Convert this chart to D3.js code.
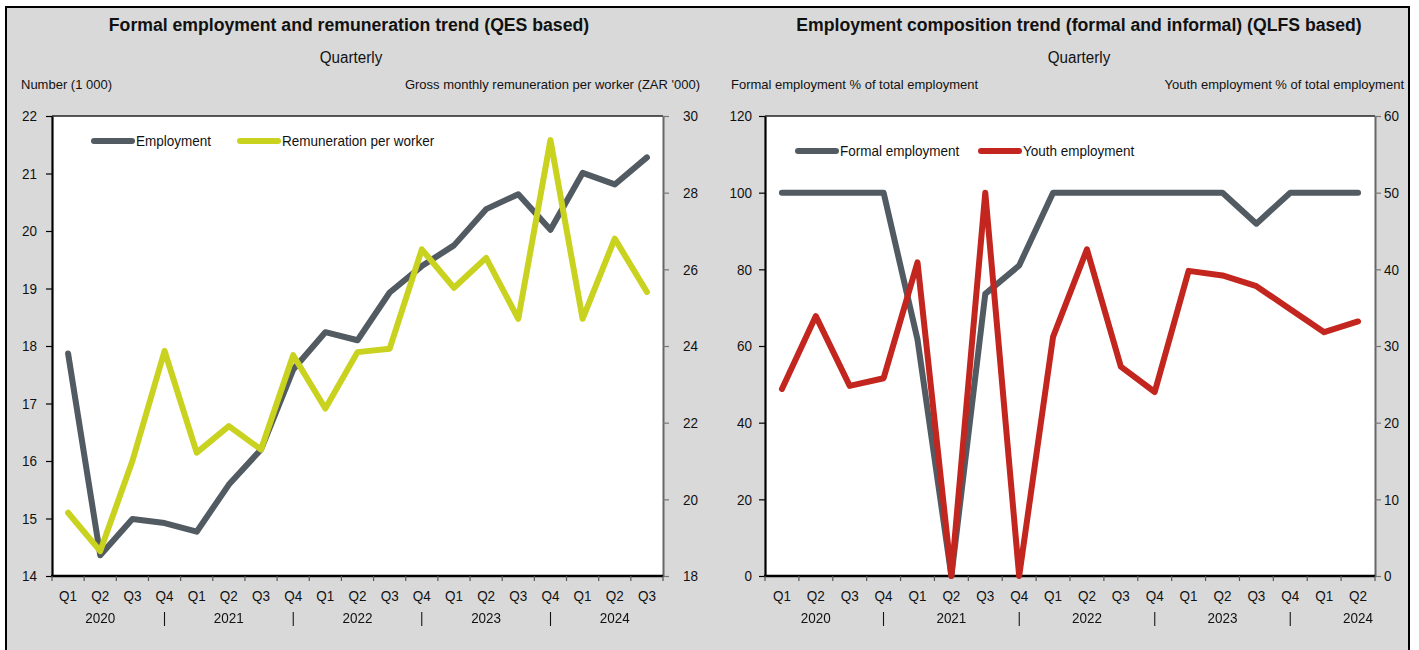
<!DOCTYPE html>
<html>
<head>
<meta charset="utf-8">
<script src="https://cdn.jsdelivr.net/npm/d3@7/dist/d3.min.js"></script>
<style>
  html, body { margin: 0; padding: 0; background: #ffffff; }
  svg { display: block; }
  text { font-family: "Liberation Sans Narrow", "Arial Narrow", "Liberation Sans", Arial, sans-serif; fill: #111; }
  .year-row { opacity: 0.995; will-change: opacity; }
</style>
</head>
<body>
<svg id="chart" width="1419" height="650"></svg>
<script>
// ---- QES panel data (quarterly, Q1 2020 – Q3 2024) ----
const qesQuarters = ["Q1","Q2","Q3","Q4","Q1","Q2","Q3","Q4","Q1","Q2","Q3","Q4","Q1","Q2","Q3","Q4","Q1","Q2","Q3"];
const qesYears    = ["2020","2020","2020","2020","2021","2021","2021","2021","2022","2022","2022","2022","2023","2023","2023","2023","2024","2024","2024"];
const employment  = [17.87, 14.36, 14.99, 14.92, 14.77, 15.59, 16.2, 17.59, 18.24, 18.1, 18.93, 19.39, 19.75, 20.38, 20.64, 20.02, 21.01, 20.81, 21.28];
const remuneration = [19.65, 18.65, 21.0, 23.87, 21.22, 21.91, 21.3, 23.76, 22.37, 23.84, 23.93, 26.52, 25.52, 26.3, 24.71, 29.37, 24.71, 26.8, 25.41];
const qesLeftTicks  = [14, 15, 16, 17, 18, 19, 20, 21, 22];
const qesRightTicks = [18, 20, 22, 24, 26, 28, 30];

// ---- QLFS panel data (quarterly, Q1 2020 – Q2 2024) ----
const qlfsQuarters = ["Q1","Q2","Q3","Q4","Q1","Q2","Q3","Q4","Q1","Q2","Q3","Q4","Q1","Q2","Q3","Q4","Q1","Q2"];
const qlfsYears    = ["2020","2020","2020","2020","2021","2021","2021","2021","2022","2022","2022","2022","2023","2023","2023","2023","2024","2024"];
const formalShare = [100, 100, 100, 100, 61.7, 0, 73.6, 81, 100, 100, 100, 100, 100, 100, 91.9, 100, 100, 100];
const youthShare  = [24.4, 33.9, 24.8, 25.8, 40.9, 0, 50, 0, 31.2, 42.6, 27.3, 24.0, 39.8, 39.2, 37.8, 34.8, 31.8, 33.2];
const qlfsLeftTicks  = [0, 20, 40, 60, 80, 100, 120];
const qlfsRightTicks = [0, 10, 20, 30, 40, 50, 60];

const COLORS = { grey: "#525a62", lime: "#c9d21e", red: "#c3261f", bg: "#d9d9d9" };

const svg = d3.select("#chart");

// Grey backdrop framed in black
svg.append("rect").attr("width", 1419).attr("height", 650).attr("fill", "#ffffff");
svg.append("rect")
  .attr("x", 6).attr("y", 7).attr("width", 1403).attr("height", 660)
  .attr("fill", COLORS.bg).attr("stroke", "#000").attr("stroke-width", 2);

function drawPanel(cfg) {
  const { left, right, top, bottom } = cfg.box;
  const g = svg.append("g");
  const idx = d3.range(cfg.quarters.length);

  const x = d3.scaleBand().domain(idx).range([left, right]).padding(0);
  const yL = d3.scaleLinear().domain(cfg.leftDomain).range([bottom, top]);
  const yR = d3.scaleLinear().domain(cfg.rightDomain).range([bottom, top]);
  const cx = i => x(i) + x.bandwidth() / 2;

  // Titles
  g.append("text").attr("x", cfg.titleX).attr("y", 31).attr("text-anchor", "middle")
    .attr("font-size", 18).attr("font-weight", "bold").attr("data-f", 0.98).text(cfg.title);
  g.append("text").attr("x", cfg.subX).attr("y", 63).attr("text-anchor", "middle")
    .attr("font-size", 16).attr("data-f", 0.95).text("Quarterly");
  g.append("text").attr("x", cfg.leftLabelX).attr("y", 89).attr("text-anchor", "start")
    .attr("font-size", 13).attr("data-f", 1).text(cfg.leftLabel);
  g.append("text").attr("x", cfg.rightLabelX).attr("y", 89).attr("text-anchor", "end")
    .attr("font-size", 13).attr("data-f", 1).text(cfg.rightLabel);

  // Plot area
  g.append("rect").attr("x", left).attr("y", top).attr("width", right - left).attr("height", bottom - top)
    .attr("fill", "#ffffff");
  g.append("line").attr("x1", left).attr("x2", right).attr("y1", top).attr("y2", top)
    .attr("stroke", "#222").attr("stroke-width", 1.5);

  // Left axis
  const axL = g.append("g").attr("transform", `translate(${left},0)`)
    .call(d3.axisLeft(yL).tickValues(cfg.leftTicks).tickSize(6).tickPadding(cfg.leftPad).tickSizeOuter(0));
  axL.select(".domain").attr("stroke", "#000").attr("stroke-width", 2.2);
  axL.selectAll(".tick line").attr("stroke", "#000").attr("stroke-width", 1.2);
  axL.selectAll(".tick text").attr("font-size", 15).attr("fill", "#111")
    .attr("font-family", null);

  // Right axis
  const axR = g.append("g").attr("transform", `translate(${right},0)`)
    .call(d3.axisRight(yR).tickValues(cfg.rightTicks).tickSize(6).tickPadding(cfg.rightPad).tickSizeOuter(0));
  axR.select(".domain").attr("stroke", "#666").attr("stroke-width", 2);
  axR.selectAll(".tick line").attr("stroke", "#777").attr("stroke-width", 1.2);
  axR.selectAll(".tick text").attr("font-size", 15).attr("fill", "#111")
    .attr("font-family", null);

  // Bottom axis line and category boundary ticks
  g.append("line").attr("x1", left - 1).attr("x2", right).attr("y1", bottom).attr("y2", bottom)
    .attr("stroke", "#000").attr("stroke-width", 2.5);
  const bounds = idx.map(i => x(i)).concat([x(idx[idx.length - 1]) + x.bandwidth()]);
  g.selectAll(null).data(bounds).join("line")
    .attr("x1", d => d).attr("x2", d => d).attr("y1", bottom).attr("y2", bottom + 5)
    .attr("stroke", "#555").attr("stroke-width", 1.2);

  // Quarter labels
  g.selectAll(null).data(idx).join("text")
    .attr("x", cx).attr("y", bottom + 25).attr("text-anchor", "middle")
    .attr("font-size", 15).text(i => cfg.quarters[i]);
  // Year labels under Q2, separators under Q4
  g.append("g").attr("class", "year-row")
    .selectAll("text").data(idx.filter(i => cfg.quarters[i] === "Q2" || cfg.quarters[i] === "Q4")).join("text")
    .attr("x", cx).attr("y", bottom + 47).attr("text-anchor", "middle")
    .attr("font-size", 15).text(i => cfg.quarters[i] === "Q2" ? cfg.years[i] : "|");

  // Series
  cfg.series.forEach(s => {
    const yS = s.axis === "left" ? yL : yR;
    const line = d3.line().x((d, i) => cx(i)).y(d => yS(d));
    g.append("path").datum(s.values).attr("d", line)
      .attr("fill", "none").attr("stroke", s.color).attr("stroke-width", 6)
      .attr("stroke-linejoin", "round").attr("stroke-linecap", "round");
  });

  // Legend
  cfg.series.forEach((s, k) => {
    const lx = cfg.legend.x[k], ly = cfg.legend.y;
    g.append("line").attr("x1", lx).attr("x2", lx + 38).attr("y1", ly).attr("y2", ly)
      .attr("stroke", s.color).attr("stroke-width", 6).attr("stroke-linecap", "round");
    g.append("text").attr("x", lx + 42).attr("y", ly + 5).attr("font-size", 15).text(s.name);
  });
}

drawPanel({
  box: { left: 52, right: 663, top: 116, bottom: 576 },
  titleX: 349, subX: 351,
  title: "Formal employment and remuneration trend (QES based)",
  leftLabel: "Number (1 000)", leftLabelX: 21,
  rightLabel: "Gross monthly remuneration per worker (ZAR '000)", rightLabelX: 700,
  quarters: qesQuarters, years: qesYears,
  leftDomain: [14, 22], rightDomain: [18, 30],
  leftTicks: qesLeftTicks, rightTicks: qesRightTicks,
  leftPad: 9, rightPad: 14,
  series: [
    { name: "Employment", values: employment, color: COLORS.grey, axis: "left" },
    { name: "Remuneration per worker", values: remuneration, color: COLORS.lime, axis: "right" }
  ],
  legend: { x: [94, 240], y: 141 }
});

drawPanel({
  box: { left: 765, right: 1375, top: 116, bottom: 576 },
  titleX: 1079, subX: 1079,
  title: "Employment composition trend (formal and informal) (QLFS based)",
  leftLabel: "Formal employment % of total employment", leftLabelX: 731,
  rightLabel: "Youth employment % of total employment", rightLabelX: 1404,
  quarters: qlfsQuarters, years: qlfsYears,
  leftDomain: [0, 120], rightDomain: [0, 60],
  leftTicks: qlfsLeftTicks, rightTicks: qlfsRightTicks,
  leftPad: 7, rightPad: 3,
  series: [
    { name: "Formal employment", values: formalShare, color: COLORS.grey, axis: "left" },
    { name: "Youth employment", values: youthShare, color: COLORS.red, axis: "right" }
  ],
  legend: { x: [798, 981], y: 151 }
});

// Narrow the glyphs to a condensed face width
svg.selectAll("text").each(function () {
  const f = this.hasAttribute("data-f") ? +this.getAttribute("data-f") : 0.9;
  if (f === 1) return;
  const w = this.getComputedTextLength();
  if (w > 0) {
    this.setAttribute("textLength", (w * f).toFixed(1));
    this.setAttribute("lengthAdjust", "spacingAndGlyphs");
  }
});
</script>
</body>
</html>
